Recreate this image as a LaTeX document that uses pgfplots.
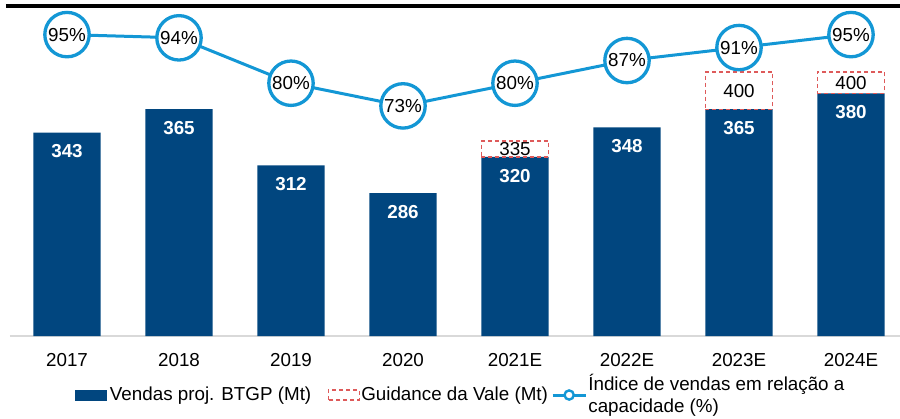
\documentclass[border=0pt]{standalone}
\usepackage{fontspec}
\setmainfont{Liberation Sans}
\usepackage{pgfplots}
\usepackage{pgfplotstable}
\pgfplotsset{compat=1.18}
\definecolor{navy}{RGB}{1,70,127}
\definecolor{lblue}{RGB}{19,151,213}
\definecolor{gred}{RGB}{222,90,90}
\definecolor{axgray}{RGB}{217,217,217}
\newcommand{\fs}{\fontsize{9.4}{11}\selectfont}

\pgfplotstableread{
x y
0 343
1 365
2 312
3 286
4 320
5 348
6 365
7 380
}\vendas

\pgfplotstableread{
x base y
4 320 335
6 365 400
7 380 400
}\guidance

\pgfplotstableread{
x y
0 95
1 94
2 80
3 73
4 80
5 87
6 91
7 95
}\indice

\pgfplotsset{common/.style={
  at={(0,0)}, anchor=south west,
  scale only axis, width=445pt, height=165.125pt,
  xmin=-0.509, xmax=7.4375, clip=false}}

\begin{document}
\begin{tikzpicture}
\useasboundingbox (-5pt,-41pt) rectangle (445pt,168pt);
% bars
\begin{axis}[common,
  ymin=151.3, ymax=462.5,
  axis x line*=bottom, axis y line=none,
  x axis line style={draw=axgray, line width=0.8pt, -},
  xtick={0,...,7},
  xticklabels={2017,2018,2019,2020,2021E,2022E,2023E,2024E},
  major tick length=0pt,
  xticklabel style={anchor=base, yshift=-15.35pt, font=\fs, text=black},
]
\addplot[ybar, bar width=0.6, bar shift=0pt, fill=navy, draw=none,
  point meta=explicit symbolic, nodes near coords={\pgfplotspointmeta},
  every node near coord/.append style={anchor=center, yshift=-9.3pt, text=white, font=\fs\bfseries}]
  table[x=x, y=y, meta=y] {\vendas};
\addplot[draw=none, mark=none, forget plot,
  point meta=explicit symbolic, nodes near coords={\pgfplotspointmeta},
  every node near coord/.append style={anchor=center, text=black, font=\fs}]
  table[x=x, y expr=(\thisrow{base}+\thisrow{y})/2, meta=y] {\guidance};
\end{axis}
% guidance boxes
\begin{axis}[common, ymin=151.3, ymax=462.5, hide axis, ybar stacked, bar width=0.6]
\addplot[draw=none, fill=none] table[x=x, y=base] {\guidance};
\addplot[draw=gred, fill=none, line width=0.6pt, dash pattern=on 2pt off 1.5pt]
  table[x=x, y expr=\thisrow{y}-\thisrow{base}] {\guidance};
\end{axis}
% index line
\begin{axis}[common, ymin=2.0, ymax=103.9, hide axis,
  legend columns=3,
  legend cell align=left,
  legend style={at={(axis description cs:0.073,-0.1787)}, anchor=west,
    draw=none, fill=none, font=\fs, inner sep=0pt,
    nodes={inner sep=0.6pt},
    cells={align=left},
    /tikz/every even column/.append style={column sep=1pt}},
]
\addlegendimage{legend image code/.code={\fill[navy] (0pt,-2.5pt) rectangle (15.5pt,2.5pt); \path[draw=none, fill=none] (15.5pt,0pt) -- (16.5pt,0pt);}}
\addlegendentry{Vendas proj. BTGP (Mt)}
\addlegendimage{legend image code/.code={\path[draw=none, fill=none] (-7pt,0pt) -- (0pt,0pt); \draw[gred, line width=0.6pt, dash pattern=on 2pt off 1.5pt] (0pt,-2.5pt) rectangle (15.5pt,2.5pt);}}
\addlegendentry{Guidance da Vale (Mt)}
\addlegendimage{legend image code/.code={\draw[lblue, line width=1.5pt] (0pt,0pt) -- (16.5pt,0pt); \draw[lblue, line width=1.2pt, fill=white] (8.25pt,0pt) circle (2.3pt);}}
\addlegendentry{Índice de vendas em relação a\\capacidade (\%)}
\addplot[lblue, line width=1.5pt, forget plot,
  mark=*, mark size=11.1pt, mark options={fill=white, draw=lblue, line width=1.65pt},
  point meta=explicit symbolic, nodes near coords={\pgfplotspointmeta\%},
  every node near coord/.append style={anchor=center, text=black, font=\fs}]
  table[x=x, y=y, meta=y] {\indice};
\end{axis}
\draw[line width=1.6pt, black] (-2pt,165pt) -- (445pt,165pt);
\end{tikzpicture}
\end{document}
